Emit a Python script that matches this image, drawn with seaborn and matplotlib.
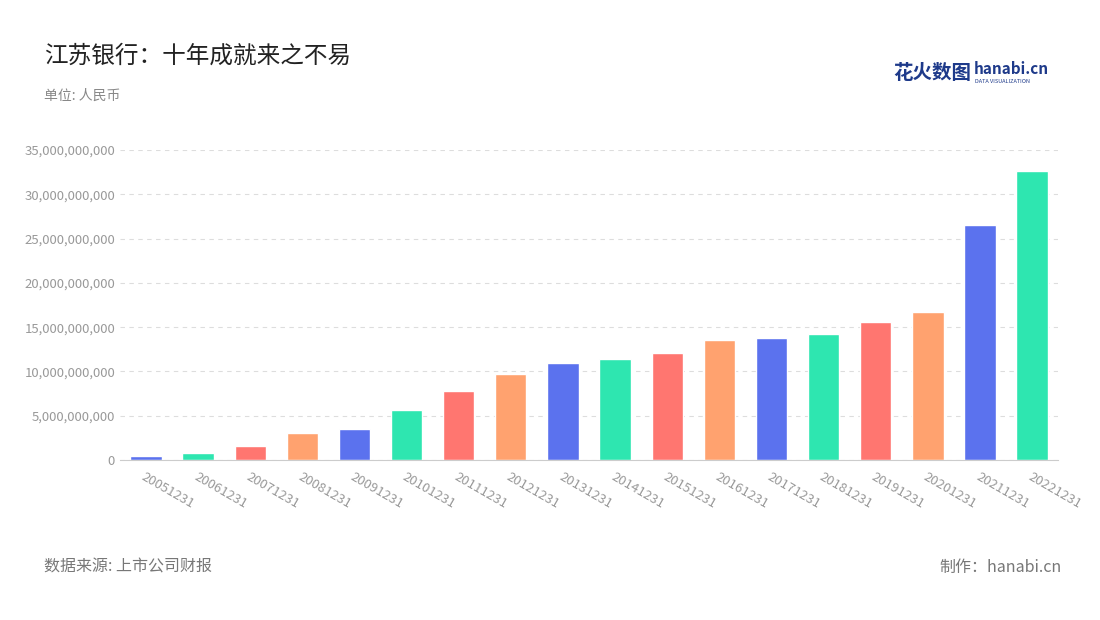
import matplotlib
matplotlib.use("Agg")
import matplotlib.pyplot as plt
import seaborn as sns
import pandas as pd
from matplotlib.ticker import FuncFormatter

dates = ["20051231","20061231","20071231","20081231","20091231","20101231","20111231",
         "20121231","20131231","20141231","20151231","20161231","20171231","20181231",
         "20191231","20201231","20211231","20221231"]
values = [0.45e9,0.8e9,1.6e9,3.0e9,3.55e9,5.6e9,7.8e9,9.7e9,11.0e9,11.4e9,12.1e9,
          13.5e9,13.8e9,14.25e9,15.6e9,16.7e9,26.5e9,32.6e9]
palette_cycle = ["#5B72EE", "#2EE6B0", "#FF7670", "#FFA26F"]

sns.set_style("white")
plt.rcParams['font.family'] = ['Noto Sans CJK SC', 'DejaVu Sans']

df = pd.DataFrame({"date": dates, "value": values})
colors = [palette_cycle[i % 4] for i in range(len(dates))]

fig = plt.figure(figsize=(11, 6.2), dpi=100)
ax = fig.add_axes([0.109, 0.258, 0.853, 0.5])
sns.barplot(data=df, x="date", y="value", hue="date", palette=colors, legend=False,
            width=0.6, ax=ax, saturation=1)
ax.set_ylim(0, 35e9)
ax.set_xlim(-0.5, len(dates) - 0.5)
ax.set_yticks([i * 5e9 for i in range(8)])
ax.yaxis.set_major_formatter(FuncFormatter(lambda v, p: f"{int(v):,}"))
ax.grid(axis="y", linestyle=(0, (4, 4)), color="#DDDDDD", linewidth=0.8)
ax.set_axisbelow(True)
for s in ["top", "right", "left"]:
    ax.spines[s].set_visible(False)
ax.spines["bottom"].set_color("#CCCCCC")
ax.tick_params(axis="y", colors="#999999", labelsize=9.5, length=0)
ax.tick_params(axis="x", colors="#999999", labelsize=9.5, length=4, color="#CCCCCC")
for lab in ax.get_xticklabels():
    lab.set_rotation(-30)
    lab.set_ha("left")
    lab.set_rotation_mode("anchor")
ax.set_xlabel("")
ax.set_ylabel("")

fig.text(0.04, 0.91, "江苏银行：十年成就来之不易", fontsize=17, color="#222222", va="center")
fig.text(0.04, 0.845, "单位: 人民币", fontsize=10, color="#888888", va="center")
fig.text(0.04, 0.085, "数据来源: 上市公司财报", fontsize=11.5, color="#777777", va="center")
fig.text(0.965, 0.085, "制作：hanabi.cn", fontsize=11.5, color="#777777", va="center", ha="right")
fig.text(0.812, 0.882, "花火数图", fontsize=14, color="#1E3A8A", va="center", fontweight="bold")
fig.text(0.885, 0.888, "hanabi.cn", fontsize=11, color="#1E3A8A", va="center", fontweight="bold")
fig.text(0.886, 0.868, "DATA VISUALIZATION", fontsize=4, color="#1E3A8A", va="center")

fig.savefig("out.png", dpi=100)
